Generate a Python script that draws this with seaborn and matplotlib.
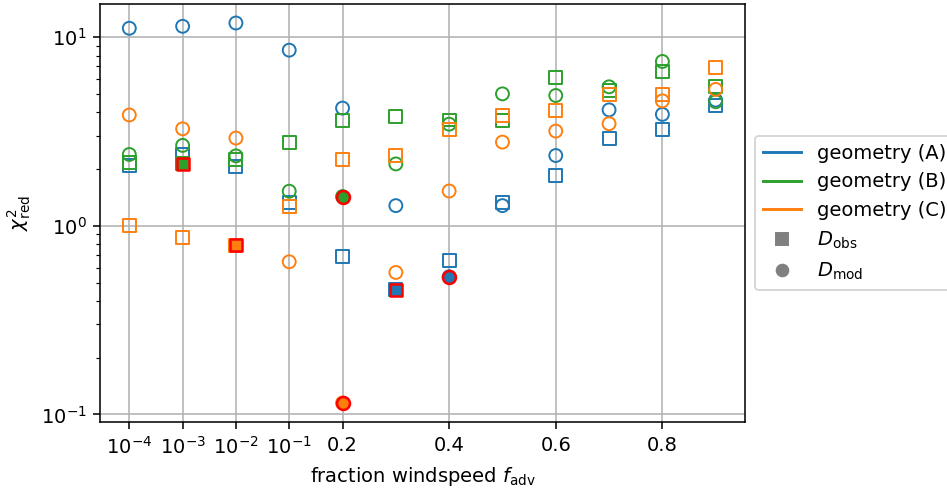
import numpy as np
import pandas as pd
import matplotlib
matplotlib.use("Agg")
import matplotlib.pyplot as plt
from matplotlib.lines import Line2D
import seaborn as sns

# x positions (first four stand for 1e-4 .. 1e-1 on a linear axis)
x_pos = [-0.2, -0.1, 0.0, 0.1, 0.2, 0.3, 0.4, 0.5, 0.6, 0.7, 0.8, 0.9]
tick_pos = [-0.2, -0.1, 0.0, 0.1, 0.2, 0.4, 0.6, 0.8]
tick_labels = [r"$10^{-4}$", r"$10^{-3}$", r"$10^{-2}$", r"$10^{-1}$", "0.2", "0.4", "0.6", "0.8"]

geometries = ["geometry (A)", "geometry (B)", "geometry (C)"]
colors = ["#1f77b4", "#2ca02c", "#ff7f0e"]

# chi2_red for D_obs (squares)
obs_A = [2.08, 2.40, 2.06, 1.33, 0.689, 0.458, 0.658, 1.33, 1.85, 2.91, 3.25, 4.35]
obs_B = [2.16, 2.13, 2.25, 2.78, 3.62, 3.79, 3.64, 3.61, 6.14, 5.20, 6.61, 5.46]
obs_C = [1.00, 0.871, 0.79, 1.265, 2.24, 2.35, 3.25, 3.85, 4.09, 4.95, 4.98, 6.88]
# chi2_red for D_mod (circles)
mod_A = [11.16, 11.43, 11.9, 8.54, 4.21, 1.28, 0.537, 1.28, 2.36, 4.12, 3.90, 4.64]
mod_B = [2.39, 2.67, 2.35, 1.526, 1.43, 2.13, 3.46, 5.01, 4.91, 5.46, 7.44, 4.55]
mod_C = [3.87, 3.27, 2.92, 0.645, 0.115, 0.566, 1.53, 2.78, 3.18, 3.48, 4.60, 5.29]

obs = [obs_A, obs_B, obs_C]
mod = [mod_A, mod_B, mod_C]

DPI = 140
fig = plt.figure(figsize=(947 / DPI, 490 / DPI), dpi=DPI)
ax = fig.add_axes([100 / 947, 1 - 422 / 490, 645 / 947, 418 / 490])

ms = 44
lw = 1.0
for g, c, o, m in zip(geometries, colors, obs, mod):
    for vals, mk in ((o, "s"), (m, "o")):
        df = pd.DataFrame({"x": x_pos, "y": vals})
        sns.scatterplot(data=df, x="x", y="y", marker=mk, s=ms, ax=ax,
                        facecolors="none", edgecolor=c, linewidth=lw, zorder=3)
        i = int(np.argmin(vals))
        best = df.iloc[[i]]
        sns.scatterplot(data=best, x="x", y="y", marker=mk, s=ms, ax=ax,
                        color=c, edgecolor="red", linewidth=lw * 1.3, zorder=4)

ax.set_yscale("log")
ax.set_xticks(tick_pos)
ax.set_xticklabels(tick_labels)
ax.grid(True, which="major", color="#b0b0b0", linewidth=0.8)
ax.set_axisbelow(True)
ax.set_xlabel(r"fraction windspeed $f_\mathrm{adv}$")
ax.set_ylabel(r"$\chi^2_\mathrm{red}$")
ax.margins(x=0.05, y=0.05)

handles = [Line2D([], [], color=c, lw=1.5) for c in colors]
handles += [Line2D([], [], color="gray", marker="s", ls="none", markersize=6),
            Line2D([], [], color="gray", marker="o", ls="none", markersize=6)]
labels = geometries + [r"$D_\mathrm{obs}$", r"$D_\mathrm{mod}$"]
ax.legend(handles, labels, loc="center left", bbox_to_anchor=(1.0, 0.5))

fig.savefig("out.png", dpi=DPI)
